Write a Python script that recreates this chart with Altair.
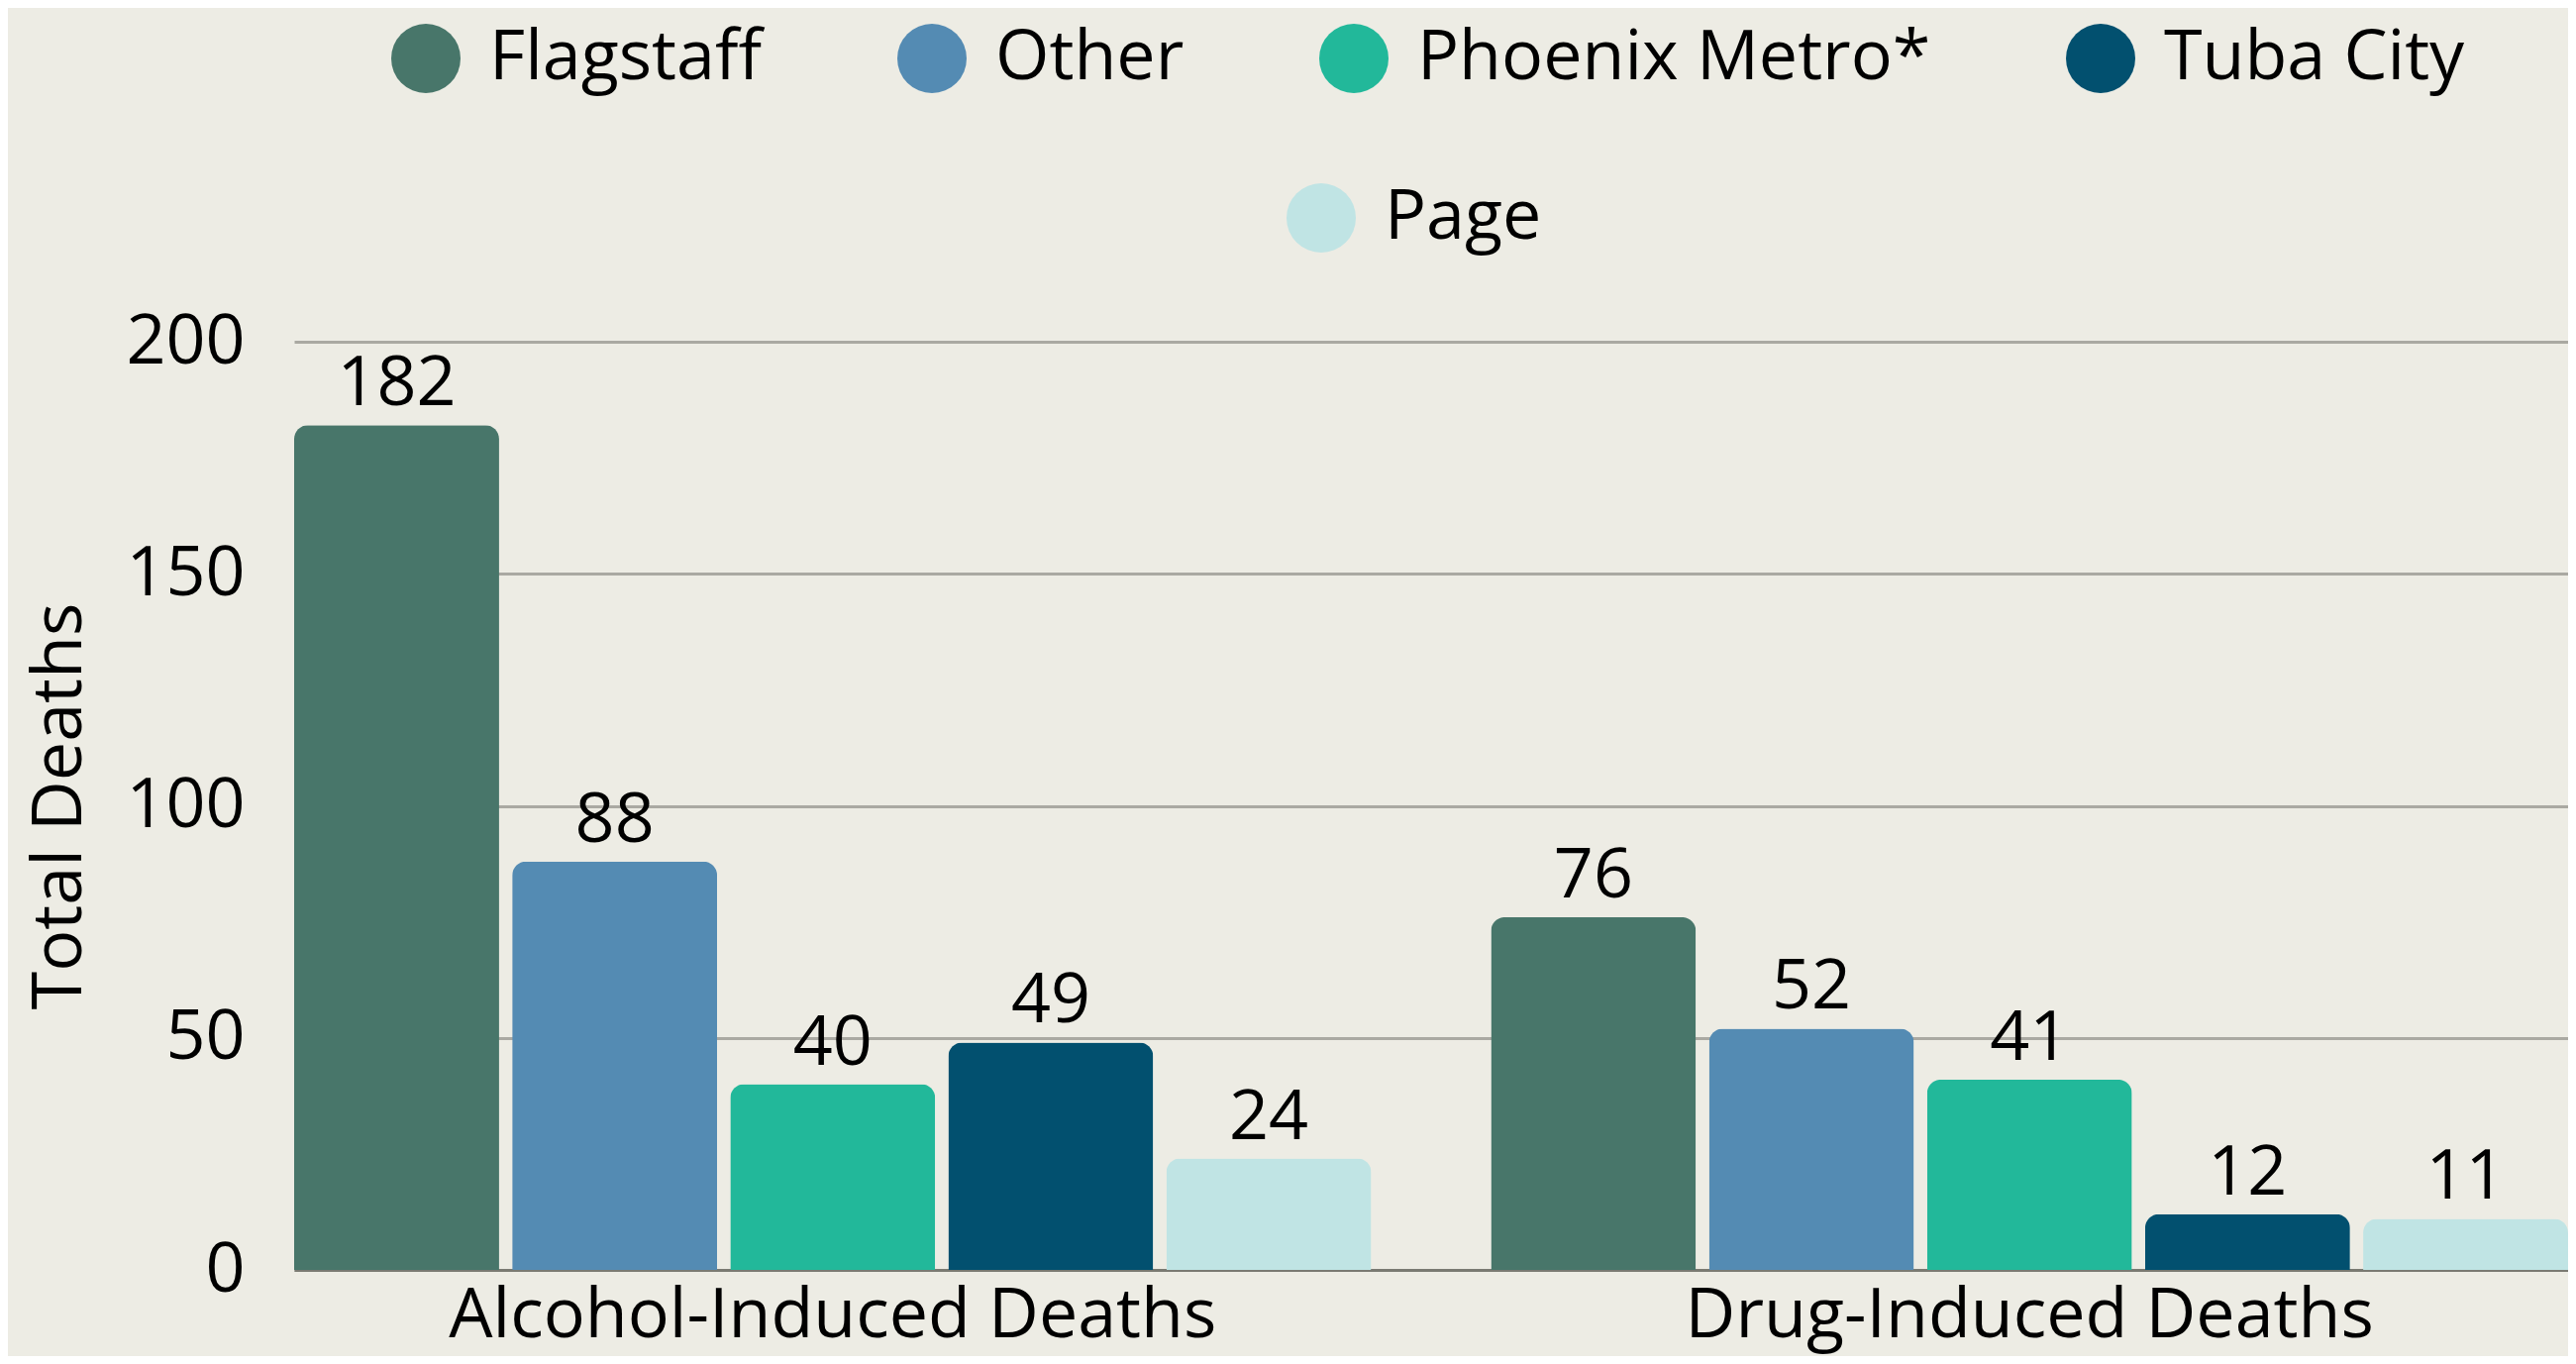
import altair as alt
import pandas as pd

# ---- data ----
categories = ["Alcohol-Induced Deaths", "Drug-Induced Deaths"]
regions = ["Flagstaff", "Other", "Phoenix Metro*", "Tuba City", "Page"]
colors = ["#48766A", "#548BB3", "#22B89A", "#02506F", "#C0E4E4"]
alcohol_deaths = [182, 88, 40, 49, 24]
drug_deaths = [76, 52, 41, 12, 11]
y_ticks = [0, 50, 100, 150, 200]

rows = []
for cat, vals in zip(categories, [alcohol_deaths, drug_deaths]):
    for r, v in zip(regions, vals):
        rows.append({"Category": cat, "Region": r, "Deaths": v})
df = pd.DataFrame(rows)

FONT = "Open Sans"
FS = 70

x = alt.X(
    "Category:N",
    sort=categories,
    scale=alt.Scale(paddingInner=0.1, paddingOuter=0),
    axis=alt.Axis(
        title=None, labelAngle=0, labelFontSize=FS, labelFont=FONT,
        labelColor="#000000", labelPadding=12, labelLimit=3000, ticks=False,
        domainColor="#7a7a72", domainWidth=3, grid=False,
    ),
)
xo = alt.XOffset(
    "Region:N", sort=regions,
    scale=alt.Scale(domain=regions, paddingInner=0.06, paddingOuter=0),
)
y = alt.Y(
    "Deaths:Q",
    scale=alt.Scale(domain=[0, 200], nice=False),
    axis=alt.Axis(
        title="Total Deaths", values=y_ticks, domain=False, ticks=False,
        labelFontSize=FS, labelFont=FONT, labelColor="#000000", labelPadding=50,
        titleFontSize=FS, titleFont=FONT, titleFontWeight="normal",
        titleColor="#000000", titlePadding=30,
        gridColor="#aaa9a2", gridWidth=3,
    ),
)

legend_style = dict(
    orient="none", direction="horizontal", symbolType="circle",
    symbolSize=4900, symbolStrokeWidth=0, labelFontSize=FS, labelFont=FONT,
    labelColor="#000000", labelOffset=29, columnPadding=136, labelLimit=2000,
    title=None,
)

base = alt.Chart(df)

bars_main = base.transform_filter(
    alt.datum.Region != regions[4]
).mark_bar(cornerRadiusTopLeft=14, cornerRadiusTopRight=14).encode(
    x=x, xOffset=xo, y=y,
    color=alt.Color(
        "Region:N", sort=regions[:4],
        scale=alt.Scale(domain=regions[:4], range=colors[:4]),
        legend=alt.Legend(columns=4, legendX=98, legendY=-321, **legend_style),
    ),
)

bars_page = base.transform_filter(
    alt.datum.Region == regions[4]
).mark_bar(cornerRadiusTopLeft=14, cornerRadiusTopRight=14).encode(
    x=x, xOffset=xo, y=y,
    fill=alt.Fill(
        "Region:N",
        scale=alt.Scale(domain=regions[4:], range=colors[4:]),
        legend=alt.Legend(columns=1, legendX=1002, legendY=-160, **legend_style),
    ),
)

labels = base.mark_text(
    baseline="alphabetic", dy=-20, fontSize=FS, font=FONT, color="#000000"
).encode(x=x, xOffset=xo, y=y, text="Deaths:Q")

chart = alt.layer(bars_main, bars_page, labels).properties(
    width=2296,
    height=937,
    padding={"left": 289, "top": 337, "right": 0, "bottom": 87},
    autosize=alt.AutoSizeParams(type="none"),
    background="#EDECE4",
).configure_view(stroke=None)

chart.save("out.html", embed_options={"renderer": "svg", "actions": False})
